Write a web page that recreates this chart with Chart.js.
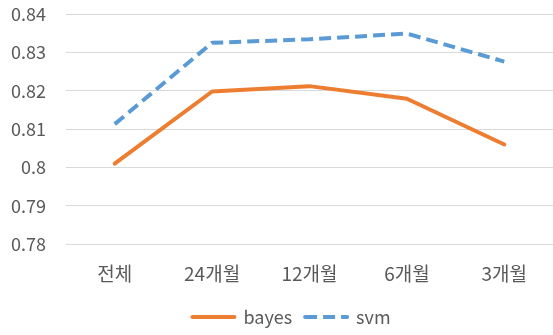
<!DOCTYPE html>
<html>
<head>
<meta charset="utf-8">
<script src="https://cdn.jsdelivr.net/npm/chart.js@4"></script>
<style>
  html, body { margin: 0; padding: 0; background: #fff; }
  #chart { display: block; }
</style>
</head>
<body>
<canvas id="chart" width="553" height="335"></canvas>
<script>
// categories and series
var periods = ['전체', '24개월', '12개월', '6개월', '3개월'];
var bayesScores = [0.801, 0.8198, 0.8212, 0.8179, 0.806];
var svmScores = [0.8113, 0.8325, 0.8334, 0.8349, 0.8276];
var yMin = 0.78, yMax = 0.84, yStep = 0.01;

var fontFamily = '"Noto Sans CJK KR", "Noto Sans", sans-serif';
var textColor = '#595959';

// the legend sits a bit right of centre in the original
var legendShift = {
    id: 'legendShift',
    afterLayout: function (chart) {
        chart.legend.left += 15;
        chart.legend.right += 15;
    }
};

var ctx = document.getElementById('chart').getContext('2d');
new Chart(ctx, {
    type: 'line',
    data: {
        labels: periods,
        datasets: [
            {
                label: 'bayes',
                data: bayesScores,
                borderColor: '#ED7D31',
                backgroundColor: '#ED7D31',
                borderWidth: 4,
                pointRadius: 0,
                tension: 0,
                borderCapStyle: 'round',
                borderJoinStyle: 'round'
            },
            {
                label: 'svm',
                data: svmScores,
                borderColor: '#5B9BD5',
                backgroundColor: '#5B9BD5',
                borderWidth: 4,
                borderDash: [12, 6],
                pointRadius: 0,
                tension: 0,
                borderJoinStyle: 'round'
            }
        ]
    },
    plugins: [legendShift],
    options: {
        responsive: false,
        animation: false,
        layout: { padding: { top: 0, right: 0, bottom: -1, left: 0 } },
        plugins: {
            tooltip: { enabled: false },
            legend: {
                display: true,
                position: 'bottom',
                labels: {
                    usePointStyle: false,
                    boxWidth: 42,
                    boxHeight: 0,
                    padding: 13,
                    color: textColor,
                    font: { family: fontFamily, size: 18 }
                }
            }
        },
        scales: {
            x: {
                offset: true,
                grid: { display: false },
                border: { display: false },
                ticks: {
                    color: textColor,
                    padding: 10,
                    font: { family: fontFamily, size: 19 }
                }
            },
            y: {
                min: yMin,
                max: yMax,
                afterFit: function (scale) {
                    scale.width = 66;
                    scale.paddingTop = 14;
                    scale.paddingBottom = 0;
                },
                grid: { color: '#D9D9D9', lineWidth: 1, drawTicks: false },
                border: { display: false },
                ticks: {
                    stepSize: yStep,
                    padding: 20,
                    color: textColor,
                    font: { family: fontFamily, size: 18 },
                    callback: function (value) {
                        return parseFloat(value.toFixed(2)).toString();
                    }
                }
            }
        }
    }
});
</script>
</body>
</html>
